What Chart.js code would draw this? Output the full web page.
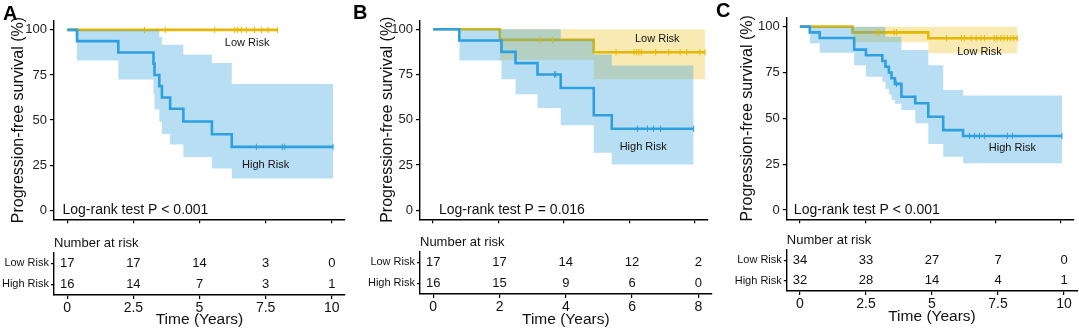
<!DOCTYPE html>
<html>
<head>
<meta charset="utf-8">
<script src="https://cdn.jsdelivr.net/npm/chart.js@4.4.0/dist/chart.umd.min.js"></script>
<style>
  body { margin: 0; background: #fff; }
  #wrap { position: relative; width: 1079px; height: 332px; overflow: hidden; background: #fff; }
  canvas { position: absolute; }
</style>
</head>
<body>
<div id="wrap">
  <canvas id="kmA"></canvas><canvas id="tabA"></canvas>
  <canvas id="kmB"></canvas><canvas id="tabB"></canvas>
  <canvas id="kmC"></canvas><canvas id="tabC"></canvas>
</div>
<script>
const FONT = "'Liberation Sans', Arial, Helvetica, sans-serif";
Chart.defaults.font.family = FONT;
Chart.defaults.color = '#111';

const LOW = '#E7B800';
const HIGH = '#2E9FDF';
const LOW_BAND = 'rgba(231,184,0,0.30)';
const HIGH_BAND = 'rgba(46,159,223,0.34)';

const groups = ['Low Risk', 'High Risk'];
const yTicks = [0, 25, 50, 75, 100];

// ---- panel A ----
const aLowTime = [0, 7.95];
const aLowSurv = [100, 100];
const aLowCens = [2.92, 3.71, 5.57, 6.33, 6.45, 6.58, 6.77, 7.08, 7.34, 7.59, 7.95];
const aLowBandTime = [];
const aLowUpper = [];
const aLowLower = [];
const aHighTime = [0, 0.37, 1.93, 3.26, 3.30, 3.48, 3.58, 3.89, 4.39, 5.47, 6.22, 10.05];
const aHighSurv = [100, 93.8, 87.5, 81.3, 75, 68.8, 62.5, 56.3, 49.2, 42.1, 35.1, 35.1];
const aHighCens = [7.15, 8.13, 8.22, 10.05];
const aHighBandTime = [0.37, 1.93, 3.26, 3.30, 3.48, 3.58, 3.89, 4.39, 5.47, 6.22, 10.05];
const aHighUpper = [100, 100, 100, 100, 96, 91.8, 91.8, 86.2, 81.7, 70, 70];
const aHighLower = [83, 72.5, 64.3, 56, 49, 42.3, 36.5, 29.5, 23.1, 17.6, 17.6];
const aXTicks = [0, 2.5, 5, 7.5, 10];
const aRiskLow = [17, 17, 14, 3, 0];
const aRiskHigh = [16, 14, 7, 3, 1];

// ---- panel B ----
const bLowTime = [0, 2.04, 4.91, 8.31];
const bLowSurv = [100, 94.1, 87.3, 87.3];
const bLowCens = [3.27, 3.65, 5.59, 6.14, 6.22, 6.29, 6.36, 6.80, 7.20, 7.55, 7.75, 8.15, 8.31];
const bLowBandTime = [2.04, 4.91, 8.31];
const bLowUpper = [100, 100, 100];
const bLowLower = [83, 72.3, 72.3];
const bHighTime = [0, 0.8, 2.09, 2.52, 3.19, 3.9, 4.91, 5.46, 7.96];
const bHighSurv = [100, 93.8, 87.5, 81.3, 75, 67.5, 52.5, 45, 45];
const bHighCens = [3.71, 3.75, 6.24, 6.55, 6.73, 6.95, 7.96];
const bHighBandTime = [0.8, 2.09, 2.52, 3.19, 3.9, 4.91, 5.46, 7.96];
const bHighUpper = [100, 100, 100, 100, 94.5, 86, 80, 80];
const bHighLower = [82.7, 72.3, 64, 56.4, 47, 31.8, 25.2, 25.2];
const bXTicks = [0, 2, 4, 6, 8];
const bRiskLow = [17, 17, 14, 12, 2];
const bRiskHigh = [16, 15, 9, 6, 0];

// ---- panel C ----
const cLowTime = [0, 2.02, 4.92, 8.33];
const cLowSurv = [100, 96.9, 93.7, 93.7];
const cLowCens = [2.95, 3.05, 3.22, 3.62, 3.7, 5.62, 6.19, 6.31, 6.56, 6.75, 6.94, 7.07, 7.45, 7.55, 7.7, 7.82, 7.95, 8.08, 8.2, 8.33];
const cLowBandTime = [2.02, 4.92, 8.33];
const cLowUpper = [100, 100, 100];
const cLowLower = [91.5, 85.5, 85.5];
const cHighTime = [0, 0.38, 0.76, 2.08, 2.53, 3.16, 3.28, 3.41, 3.51, 3.64, 3.89, 4.42, 4.92, 5.49, 6.25, 10.04];
const cHighSurv = [100, 96.9, 93.8, 87.5, 84.4, 81.3, 78.1, 75, 71.9, 68.8, 61.8, 58.2, 50.9, 43.6, 40.4, 40.4];
const cHighCens = [3.7, 6.5, 6.69, 6.88, 7.07, 7.95, 8.14, 10.04];
const cHighBandTime = [0.38, 0.76, 2.08, 2.53, 3.16, 3.28, 3.41, 3.51, 3.64, 3.89, 4.42, 4.92, 5.49, 6.25, 10.04];
const cHighUpper = [100, 100, 100, 100, 100, 94.5, 94.5, 94.5, 94.5, 87.3, 87.3, 79, 65.5, 62.4, 62.4];
const cHighLower = [90.9, 85.8, 79, 72.7, 70, 66, 63, 60, 58, 54.5, 47.3, 36, 29, 25.5, 25.5];
const cXTicks = [0, 2.5, 5, 7.5, 10];
const cRiskLow = [34, 33, 27, 7, 0];
const cRiskHigh = [32, 28, 14, 4, 1];

function pts(xs, ys) { return xs.map((x, i) => ({ x: x, y: ys[i] })); }
function survAt(times, surv, t) {
  let v = surv[0];
  for (let i = 0; i < times.length; i++) if (times[i] <= t) v = surv[i];
  return v;
}

// layout of each panel (canvas pixels)
const panels = [
  { key: 'A', letter: 'A', left: 0, w: 350, xmin: -0.5, xmax: 10.5, ticks: aXTicks,
    axisLeft: 54, plotRight: 345, plotTop: 20.9, plotBottom: 221, titlePad: 8.9, letterX: 3, letterY: 20,
    tabTop: 22.7, tabBottom: 65, timePad: 3, narY: 13,
    logrank: 'Log-rank test P < 0.001', logrankAt: [-0.18, 0], lowLab: [6.8, 92.9], highLab: [7.5, 24.9],
    low: [aLowTime, aLowSurv, aLowCens, aLowBandTime, aLowUpper, aLowLower],
    high: [aHighTime, aHighSurv, aHighCens, aHighBandTime, aHighUpper, aHighLower],
    risk: [aRiskLow, aRiskHigh] },
  { key: 'B', letter: 'B', left: 350, w: 363, xmin: -0.4, xmax: 8.4, ticks: bXTicks,
    axisLeft: 70, plotRight: 361.6, plotTop: 20.2, plotBottom: 221, titlePad: 27.9, letterX: 3, letterY: 18.5,
    tabTop: 21.7, tabBottom: 64, timePad: 3, narY: 12.5,
    logrank: 'Log-rank test P = 0.016', logrankAt: [0.18, 0], lowLab: [6.85, 94.5], highLab: [6.42, 35],
    low: [bLowTime, bLowSurv, bLowCens, bLowBandTime, bLowUpper, bLowLower],
    high: [bHighTime, bHighSurv, bHighCens, bHighBandTime, bHighUpper, bHighLower],
    risk: [bRiskLow, bRiskHigh] },
  { key: 'C', letter: 'C', left: 712, w: 367, xmin: -0.5, xmax: 10.5, ticks: cXTicks,
    axisLeft: 74.8, plotRight: 365.2, plotTop: 17.5, plotBottom: 219.2, titlePad: 26.4, letterX: 4, letterY: 17,
    tabTop: 20, tabBottom: 61, timePad: 6.3, narY: 10,
    logrank: 'Log-rank test P < 0.001', logrankAt: [-0.23, 0], lowLab: [6.88, 86.4], highLab: [8.14, 33.7],
    low: [cLowTime, cLowSurv, cLowCens, cLowBandTime, cLowUpper, cLowLower],
    high: [cHighTime, cHighSurv, cHighCens, cHighBandTime, cHighUpper, cHighLower],
    risk: [cRiskLow, cRiskHigh] }
];

const KM_H = 230, TAB_TOP = 230, TAB_H = 102;

function axisGrid(len) {
  return { drawOnChartArea: false, drawTicks: true, tickLength: len, color: '#000', lineWidth: 1.2 };
}
function axisBorder() { return { display: true, color: '#000', width: 1.4 }; }

function censorSet(g, color) {
  return {
    data: g[2].map(t => ({ x: t, y: survAt(g[0], g[1], t) })),
    showLine: false, pointStyle: 'line', pointRotation: 90, pointRadius: 3.2,
    pointBorderColor: color, pointBorderWidth: 1, pointBackgroundColor: color
  };
}
function lineSet(g, color) {
  return { data: pts(g[0], g[1]), stepped: 'before', borderColor: color, borderWidth: 2.6,
           pointRadius: 0, fill: false };
}
function bandSets(g, color) {
  return [
    { data: pts(g[3], g[4]), stepped: 'before', borderColor: 'rgba(0,0,0,0)', borderWidth: 0,
      pointRadius: 0, fill: '+1', backgroundColor: color },
    { data: pts(g[3], g[5]), stepped: 'before', borderColor: 'rgba(0,0,0,0)', borderWidth: 0,
      pointRadius: 0, fill: false }
  ];
}

function drawKm(p) {
  const cv = document.getElementById('km' + p.key);
  cv.width = p.w; cv.height = KM_H;
  cv.style.left = p.left + 'px'; cv.style.top = '0px';

  const textPlugin = {
    id: 'kmText',
    afterDatasetsDraw(chart) {
      const ctx = chart.ctx, x = chart.scales.x, y = chart.scales.y;
      ctx.save();
      ctx.fillStyle = '#111';
      ctx.textBaseline = 'middle';
      ctx.font = '11px ' + FONT;
      ctx.textAlign = 'center';
      ctx.fillText('Low Risk', x.getPixelForValue(p.lowLab[0]), y.getPixelForValue(p.lowLab[1]));
      ctx.fillText('High Risk', x.getPixelForValue(p.highLab[0]), y.getPixelForValue(p.highLab[1]));
      ctx.font = '14px ' + FONT;
      ctx.textAlign = 'left';
      ctx.fillText(p.logrank, x.getPixelForValue(p.logrankAt[0]), y.getPixelForValue(p.logrankAt[1]));
      ctx.font = 'bold 20px ' + FONT;
      ctx.textBaseline = 'alphabetic';
      ctx.fillStyle = '#000';
      ctx.fillText(p.letter, p.letterX, p.letterY);
      ctx.restore();
    }
  };

  // first dataset is drawn on top
  const datasets = [
    censorSet(p.low, LOW),
    censorSet(p.high, HIGH),
    lineSet(p.high, HIGH),
    ...bandSets(p.high, HIGH_BAND),
    lineSet(p.low, LOW),
    ...bandSets(p.low, LOW_BAND)
  ];

  new Chart(cv, {
    type: 'line',
    data: { datasets: datasets },
    options: {
      responsive: false, animation: false, devicePixelRatio: 1, events: [],
      layout: { padding: { top: p.plotTop, right: p.w - p.plotRight, left: 0, bottom: 0 } },
      plugins: { legend: { display: false }, tooltip: { enabled: false } },
      scales: {
        x: {
          type: 'linear', min: p.xmin, max: p.xmax,
          afterBuildTicks: s => { s.ticks = p.ticks.map(v => ({ value: v })); },
          afterFit: s => { s.height = KM_H - p.plotBottom; },
          ticks: { display: false },
          grid: axisGrid(4), border: axisBorder()
        },
        y: {
          type: 'linear', min: -5, max: 105,
          afterBuildTicks: s => { s.ticks = yTicks.map(v => ({ value: v })); },
          afterFit: s => { s.width = p.axisLeft; },
          ticks: { font: { size: 13 }, color: '#222', padding: 3 },
          grid: axisGrid(4), border: axisBorder(),
          title: { display: true, text: 'Progression-free survival (%)', font: { size: 16 }, color: '#111',
                   padding: { top: p.titlePad, bottom: 0 } }
        }
      }
    },
    plugins: [textPlugin]
  });
}

function drawTable(p) {
  const cv = document.getElementById('tab' + p.key);
  cv.width = p.w; cv.height = TAB_H;
  cv.style.left = p.left + 'px'; cv.style.top = TAB_TOP + 'px';

  const numPlugin = {
    id: 'riskNumbers',
    afterDatasetsDraw(chart) {
      const ctx = chart.ctx;
      ctx.save();
      ctx.fillStyle = '#111';
      ctx.textAlign = 'center';
      ctx.textBaseline = 'middle';
      ctx.font = '13px ' + FONT;
      chart.data.datasets.forEach((ds, di) => {
        chart.getDatasetMeta(di).data.forEach((el, i) => {
          ctx.fillText(String(ds.counts[i]), el.x, el.y);
        });
      });
      ctx.font = '13px ' + FONT;
      ctx.textAlign = 'left';
      ctx.fillText('Number at risk', chart.chartArea.left, p.narY);
      ctx.restore();
    }
  };

  const datasets = groups.map((g, gi) => ({
    counts: p.risk[gi],
    data: p.ticks.map(t => ({ x: t, y: g })),
    showLine: false, pointRadius: 0
  }));

  new Chart(cv, {
    type: 'line',
    data: { datasets: datasets },
    options: {
      responsive: false, animation: false, devicePixelRatio: 1, events: [],
      layout: { padding: { top: p.tabTop, right: p.w - p.plotRight, left: 0, bottom: 0 } },
      plugins: { legend: { display: false }, tooltip: { enabled: false } },
      scales: {
        x: {
          type: 'linear', min: p.xmin, max: p.xmax,
          afterBuildTicks: s => { s.ticks = p.ticks.map(v => ({ value: v })); },
          afterFit: s => { s.height = TAB_H - p.tabBottom; },
          ticks: { font: { size: 14 }, color: '#111', padding: 1 },
          grid: axisGrid(4), border: axisBorder(),
          title: { display: true, text: 'Time (Years)', font: { size: 15.5 }, color: '#111',
                   padding: { top: 0, bottom: p.timePad } }
        },
        y: {
          type: 'category', labels: groups, offset: true,
          afterFit: s => { s.width = p.axisLeft; },
          ticks: { font: { size: 11 }, color: '#111', padding: 2 },
          grid: axisGrid(3), border: axisBorder()
        }
      }
    },
    plugins: [numPlugin]
  });
}

panels.forEach(p => { drawKm(p); drawTable(p); });
</script>
</body>
</html>
